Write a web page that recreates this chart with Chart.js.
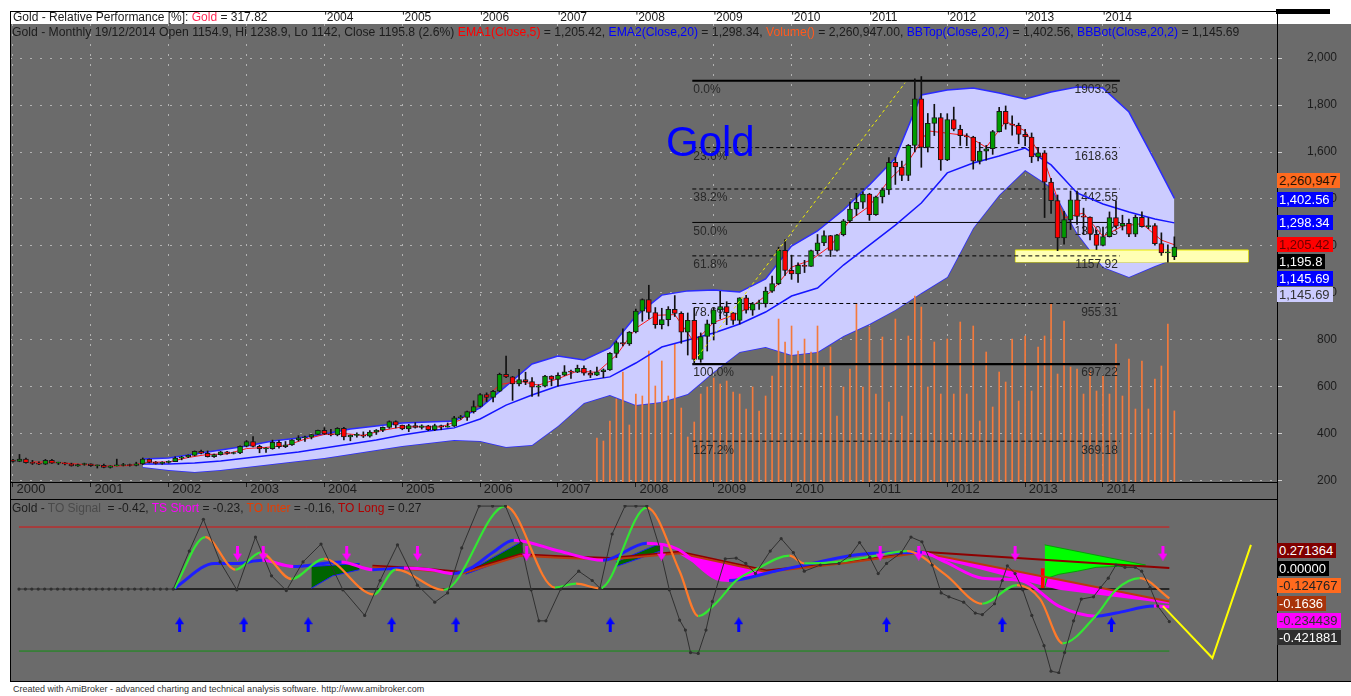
<!DOCTYPE html>
<html>
<head>
<meta charset="utf-8">
<title>Gold - Monthly</title>
<script src="https://cdn.jsdelivr.net/npm/chart.js@4.4.1/dist/chart.umd.min.js"></script>
<style>
  body { margin: 0; width: 1351px; height: 696px; position: relative; overflow: hidden; background: #fff;
         font-family: Arial, "Liberation Sans", sans-serif; }
  .gray { position: absolute; background: #6b6b6b; }
  .blk { position: absolute; background: #000; }
  .t { position: absolute; white-space: nowrap; font-size: 12px; line-height: 14px; color: #1c1c1c; }
  .v { position: absolute; left: 1277px; height: 15px; line-height: 15px; font-size: 13px; padding: 0 3px 0 2px; white-space: nowrap; }
  canvas { position: absolute; }
</style>
</head>
<body>
<div class="gray" style="left:10px;top:24px;width:1341px;height:657px"></div>

<canvas id="main" width="1341" height="487" style="left:10px;top:12px"></canvas>
<canvas id="osc" width="1267" height="181" style="left:10px;top:499px"></canvas>

<!-- frame lines -->
<div class="blk" style="left:10px;top:11px;width:1267px;height:1px"></div>
<div class="blk" style="left:10px;top:11px;width:1px;height:670px"></div>
<div class="blk" style="left:1277px;top:11px;width:1px;height:670px"></div>
<div class="blk" style="left:10px;top:482px;width:1267px;height:1px"></div>
<div class="blk" style="left:10px;top:499px;width:1267px;height:1px"></div>
<div class="blk" style="left:10px;top:681px;width:1341px;height:1px"></div>
<div class="blk" style="left:1276px;top:9px;width:54px;height:5px"></div>

<!-- titles -->
<div class="t" style="left:13px;top:10px;">Gold - Relative Performance [%]: <span style="color:#ff2a55">Gold</span> = 317.82</div>
<div class="t" style="left:12px;top:25px;font-size:12.2px;">Gold - Monthly 19/12/2014 Open 1154.9, Hi 1238.9, Lo 1142, Close 1195.8 (2.6%) <span style="color:#ff0000">EMA1(Close,5)</span> = 1,205.42, <span style="color:#0000ff">EMA2(Close,20)</span> = 1,298.34, <span style="color:#ff5a1e">Volume()</span> = 2,260,947.00, <span style="color:#0000ff">BBTop(Close,20,2)</span> = 1,402.56, <span style="color:#0000ff">BBBot(Close,20,2)</span> = 1,145.69</div>
<div class="t" style="left:666px;top:121px;font-size:42px;line-height:42px;color:#0000ff;">Gold</div>
<div class="t" style="left:12px;top:501px;">Gold - <span style="color:#4a4a4a">TO Signal</span>&nbsp; = -0.42, <span style="color:#ff00ff">TS Short</span> = -0.23, <span style="color:#e83c00">TO Inter</span> = -0.16, <span style="color:#b00000">TO Long</span> = 0.27</div>
<div class="t" style="left:13px;top:684px;font-size:9px;line-height:11px;color:#333;">Created with AmiBroker - advanced charting and technical analysis software. http://www.amibroker.com</div>

<!-- value labels, right axis -->
<div class="v" style="top:173px;background:#ff6a1e;color:#2a1000;">2,260,947</div>
<div class="v" style="top:192px;background:#0000ff;color:#fff;">1,402.56</div>
<div class="v" style="top:215px;background:#0000ff;color:#fff;">1,298.34</div>
<div class="v" style="top:237px;background:#ff0000;color:#6a0000;">1,205.42</div>
<div class="v" style="top:254px;background:#000;color:#fff;">1,195.8</div>
<div class="v" style="top:271px;background:#0000ff;color:#fff;">1,145.69</div>
<div class="v" style="top:287px;background:#ccccff;color:#333;">1,145.69</div>

<div class="v" style="top:543px;background:#800000;color:#fff;">0.271364</div>
<div class="v" style="top:561px;background:#000;color:#fff;">0.00000</div>
<div class="v" style="top:578px;background:#ff6a1e;color:#222;">-0.124767</div>
<div class="v" style="top:596px;background:#a8330a;color:#fff;">-0.1636</div>
<div class="v" style="top:613px;background:#ff00ff;color:#333;">-0.234439</div>
<div class="v" style="top:630px;background:#2e2e2e;color:#fff;">-0.421881</div>

<script>
// monthly bars Jan 2000 .. Dec 2014, x = month index
const open = [
  289,283,293,278,275,272,288,276,277,273,264,270,
  273,265,267,258,264,266,270,266,273,293,279,275,
  279,282,297,302,309,326,318,304,312,324,317,319,
  348,368,347,336,338,364,346,354,375,384,386,398,
  416,400,396,424,388,394,395,391,408,416,428,453,
  438,422,436,428,435,418,436,429,433,469,470,495,
  517,568,556,582,654,643,613,632,623,599,604,646,
  632,650,665,663,679,659,650,665,673,743,789,783,
  834,923,972,917,865,887,930,913,833,884,717,815,
  869,928,942,916,883,979,927,954,955,1008,1040,1182,
  1096,1081,1118,1113,1180,1213,1244,1181,1248,1307,1357,1386,
  1421,1333,1409,1439,1556,1536,1500,1628,1826,1620,1722,1746,
  1566,1738,1697,1669,1664,1561,1604,1614,1687,1773,1719,1714,
  1675,1664,1579,1597,1472,1393,1234,1312,1396,1326,1323,1250,
  1202,1240,1321,1284,1296,1250,1322,1282,1287,1210,1171,1154.9
];
const high = [
  292,313,298,288,282,292,292,280,278,276,272,276,
  273,268,272,265,293,275,272,280,298,294,283,282,
  286,303,305,311,328,332,328,315,326,326,323,350,
  372,389,352,342,374,372,368,376,393,391,399,417,
  427,420,427,428,396,405,409,415,419,430,456,456,
  438,441,448,439,437,442,438,447,475,479,498,541,
  572,575,586,659,732,645,675,663,640,610,650,648,
  660,691,672,693,690,671,685,677,746,796,848,836,
  932,975,1033,938,935,942,989,920,915,935,830,885,
  937,1007,963,917,980,990,960,970,1025,1072,1195,1227,
  1161,1128,1139,1183,1249,1265,1245,1250,1313,1387,1424,1431,
  1424,1412,1447,1576,1577,1561,1632,1911,1921,1764,1803,1764,
  1763,1791,1714,1678,1667,1641,1628,1692,1790,1796,1754,1723,
  1697,1681,1617,1606,1488,1417,1347,1434,1434,1361,1324,1267,
  1280,1345,1392,1331,1315,1332,1345,1320,1295,1256,1205,1238.9
];
const low = [
  280,282,276,270,269,270,275,270,268,263,262,267,
  262,255,256,255,264,264,263,264,270,277,272,271,
  276,282,290,299,307,315,302,300,310,314,315,316,
  345,345,320,322,335,340,342,351,370,368,379,398,
  398,392,392,375,371,387,385,386,398,410,424,426,
  418,410,425,421,414,414,418,429,432,462,458,489,
  515,538,536,580,640,543,605,610,560,561,600,605,
  603,648,636,661,650,640,648,640,670,725,775,777,
  830,880,890,850,847,860,900,786,736,697,705,753,
  800,890,865,866,868,914,905,930,940,1002,1035,1075,
  1058,1045,1087,1113,1165,1201,1155,1178,1243,1300,1330,1360,
  1309,1330,1383,1420,1462,1478,1478,1600,1535,1600,1670,1522,
  1563,1690,1628,1627,1527,1549,1565,1590,1685,1697,1672,1635,
  1627,1555,1562,1321,1339,1180,1208,1270,1292,1251,1226,1185,
  1200,1238,1277,1268,1240,1240,1280,1274,1204,1160,1131,1142
];
const close = [
  283,293,278,275,272,288,276,277,273,264,270,273,
  265,267,258,264,266,270,266,273,293,279,275,279,
  282,297,302,309,326,318,304,312,324,317,319,348,
  368,347,336,338,364,346,354,375,384,386,398,416,
  400,396,424,388,394,395,391,408,416,428,453,438,
  422,436,428,435,418,436,429,433,469,470,495,517,
  568,556,582,654,643,613,632,623,599,604,646,632,
  650,665,663,679,659,650,665,673,743,789,783,834,
  923,972,917,865,887,930,913,833,884,717,815,869,
  928,942,916,883,979,927,954,955,1008,1040,1182,1096,
  1081,1118,1113,1180,1213,1244,1181,1248,1307,1357,1386,1421,
  1333,1409,1439,1556,1536,1500,1628,1826,1620,1722,1746,1566,
  1738,1697,1669,1664,1561,1604,1614,1687,1773,1719,1714,1675,
  1664,1579,1597,1472,1393,1234,1312,1396,1326,1323,1250,1202,
  1240,1321,1284,1296,1250,1322,1282,1287,1210,1171,1175,1195.8
];

// volume (thousands), Jul 2007 .. Dec 2014
const VOL_START = 90;
const volume = [
  1400,1304,1940,2640,3498,1813,2798,2735,4166,3053,
  3848,2735,4388,2353,1431,1908,2798,3021,3307,3116,
  3212,2862,2798,2321,3021,2258,2735,3371,5183,4452,
  4961,4166,4547,4134,4961,3657,4293,2099,3021,3593,
  5660,3021,4929,2798,4611,2544,5183,2099,4643,5915,
  5565,3021,4452,2798,4547,2798,5088,2798,4961,1940,
  4134,2385,3498,3180,4547,2576,4643,2894,4293,4643,
  5660,3434,5120,3657,3593,2798,3530,2894,3371,2798,
  4388,2735,3911,2321,3848,2321,3275,3689,5024,2261
];

// Bollinger bands and EMA20, read every 4 months
const bandMonths = [20,24,28,32,36,40,44,48,52,56,60,64,68,72,76,80,84,88,92,96,100,104,108,112,116,120,124,128,132,136,140,144,148,152,156,160,164,168,172,176,179];
const bbTop = [294,298,315,332,349,370,383,400,421,434,447,451,455,511,604,698,732,715,766,902,991,1009,1013,1004,1060,1200,1264,1353,1460,1574,1843,1864,1872,1851,1826,1855,1877,1872,1770,1562,1402.56];
const bbBot = [260,247,238,247,260,272,285,298,315,332,349,362,374,370,345,353,434,532,566,523,536,570,664,749,770,736,749,817,868,928,1000,1068,1277,1417,1523,1451,1255,1111,1068,1115,1145.69];
const ema20 = [272,272,277,285,298,311,323,340,357,374,396,413,426,464,523,566,604,626,643,702,770,800,830,868,919,987,1021,1119,1204,1289,1383,1511,1553,1583,1617,1545,1426,1379,1345,1315,1298.34];

// EMA5, read every 3 months
const emaFastMonths = [3,6,9,12,15,18,21,24,27,30,33,36,39,42,45,48,51,54,57,60,63,66,69,72,75,78,81,84,87,90,93,96,99,102,105,108,111,114,117,120,123,126,129,132,135,138,141,144,147,150,153,156,159,162,165,168,171,174,177,179];
const ema5 = [281,280,274,268,263,266,280,281,300,313,315,338,343,350,378,398,402,394,416,430,431,430,460,530,610,625,608,635,668,662,735,850,905,908,790,875,905,945,1010,1110,1140,1200,1310,1370,1480,1560,1690,1680,1670,1620,1730,1690,1560,1320,1340,1240,1285,1295,1225,1205.42];

// Fibonacci retracement
const fibPct = ['0.0%','23.6%','38.2%','50.0%','61.8%','78.6%','100.0%','127.2%'];
const fibLevels = [1903.25,1618.63,1442.55,1300.23,1157.92,955.31,697.22,369.18];
const fibFrom = 104.7, fibTo = 170.6;
const trendMonths = [105, 137.5];
const trendValues = [710, 1895];
const zoneMonths = [154.5, 190.4];
const zoneTop = 1183, zoneBottom = 1132;

// oscillator panel
const signalMonths = [0,1,2,3,4,5,6,7,8,9,10,11,12,13,14,15,16,17,18,19,20,21,22,23,24,
  26.5,28.7,31.3,33.9,36.8,39.3,41.6,44.2,47,50.4,53.8,56.2,58.9,62,64.7,66.7,68.9,71.6,73.7,75.7,
  78.1,79.7,80.9,82,84.3,87.1,89.2,90.4,92.3,94.3,96,97.7,99.7,101.2,102.8,103.7,104.5,105.7,106.9,107.9,
  109.9,111.6,113.1,114.6,116.9,118.6,120.5,122.2,124.7,127.6,129.3,130.8,132.4,133.7,135,137.3,138.8,140.5,
  142.1,143.5,144.7,147,148.8,149.9,151.8,153,153.8,155,156.2,157.6,159.5,160.6,161.8,162.7,164.1,165.3,
  167.2,168.3,169.5,170.7,172.1,173.7,174.7,176,177.2,179];
const signal = [0,0,0,0,0,0,0,0,0,0,0,0,0,0,0,0,0,0,0,0,0,0,0,0,0,
  0.49,0.90,0.35,-0.01,0.67,0.17,-0.02,0.35,0.58,-0.01,-0.34,0.11,0.57,0.05,-0.17,-0.05,0.53,1.07,1.07,1.07,
  0.59,-0.01,-0.41,-0.41,0.00,0.23,0.11,0.01,0.71,1.07,1.07,1.07,0.53,-0.01,-0.40,-0.53,-0.82,-0.83,-0.53,-0.16,
  0.39,0.40,0.33,0.20,0.49,0.65,0.47,0.23,0.31,0.33,0.43,0.60,0.41,0.20,0.33,0.47,0.67,0.61,
  0.31,-0.05,-0.10,-0.17,-0.31,-0.33,-0.19,0.11,0.30,0.20,-0.01,-0.34,-0.73,-1.06,-1.08,-0.82,-0.41,-0.13,
  -0.10,0.02,0.14,0.31,0.28,0.28,0.23,0.02,-0.22,-0.42];
const fastMonths = [24.2,29,33.7,37.6,42.4,47.5,55.2,58.6,66.1,75.7,83.4,86.7,90.4,97.7,102.8,105.7,108.6,111.6,114.6,119.9,122.2,127.4,132,138.2,144.1,149.9,155.3,158.9,162.4,167.6,170.7,174.4,179];
const fastLine = [0.01,0.67,0.25,0.47,0.13,0.39,-0.07,0.25,-0.01,1.07,0.02,0.07,0.01,1.05,0.23,-0.35,-0.17,0.11,0.25,0.43,0.33,0.35,0.41,0.49,0.19,-0.19,0.05,-0.13,-0.70,-0.34,-0.01,0.14,-0.12];
const shortMonths = [24.2,30.4,33.7,37.9,42.7,50.2,55,59.9,64.1,67.5,70.3,73.7,77,84,90.9,97.7,102.6,108.6,110.5,117.6,123.4,131.1,140.5,144.1,149.9,155.9,161.8,167.6,170.7,176.6,179];
const tsShort = [0.01,0.33,0.33,0.37,0.29,0.35,0.25,0.27,0.25,0.20,0.27,0.47,0.63,0.49,0.37,0.59,0.51,0.13,0.11,0.23,0.33,0.45,0.47,0.35,0.14,0.11,-0.22,-0.35,-0.31,-0.22,-0.23];
const slowMonths = [55,62,69,78,85,92,102.8,116.3,129,140.5,179];
const toLong = [0.30,0.27,0.22,0.45,0.42,0.40,0.48,0.24,0.35,0.48,0.27];
const toInter = [0.28,0.25,0.20,0.43,0.40,0.38,0.46,0.22,0.34,0.47,-0.16];
const pinkEdgeA = { m: [102.8,105.7,108.6,110.5,113.5,116.3], v: [0.45,0.30,0.13,0.11,0.15,0.22] };
const pinkEdgeB = { m: [140.5,161.8,179], v: [0.45,-0.01,-0.19] };
const darkFills = [
  { up: { m: [45.5,53], v: [0.29,0.33] }, lo: { m: [45.5,48.8,53], v: [0.01,0.17,0.25] } },
  { up: { m: [69.5,78.4], v: [0.21,0.62] }, lo: { m: [69.5,78.4], v: [0.19,0.46] } },
  { up: { m: [92.9,99.8], v: [0.35,0.59] }, lo: { m: [92.9,99.8], v: [0.29,0.49] } }
];
const wedgeUp = { m: [159.6,175.3], v: [0.57,0.31] };
const wedgeLo = { m: [159.6,160,161.8,164.7,167.6,175.3], v: [0.02,0.14,0.19,0.23,0.28,0.31] };
const redUp = { m: [159,159.6], v: [0.26,0.26] };
const redLo = { m: [159,159.6], v: [0.02,0.02] };
const upArrowMonths = [25,35,45,58,68,92,112,135,153,170];
const downArrowMonths = [34,38,51,62,79,100,134,140,155,178];
const UP_ARROW_AT = -0.46, DOWN_ARROW_AT = 0.464;
const projMonths = [178, 185.7, 191.7];
const projection = [-0.22, -0.89, 0.57];
const upperLevel = 0.8, lowerLevel = -0.8;

const yearLabels = ['2000','2001','2002','2003','2004','2005','2006','2007','2008','2009','2010','2011','2012','2013','2014'];
const topYearFrom = 4; // top strip shows 2004 onwards

const XMIN = -0.46, XMAX = 194.82;
const pts = (xs, ys) => xs.map((x, i) => ({ x: x, y: ys[i] }));
const flat = (xs, v) => xs.map(x => ({ x: x, y: v }));

// ---------------- main price panel ----------------
const mainSets = [];
mainSets.push({ type: 'line', data: pts(bandMonths, bbTop), borderColor: '#2b2bff', borderWidth: 1.5, fill: '+1', backgroundColor: '#ccccff', order: 20 });
mainSets.push({ type: 'line', data: pts(bandMonths, bbBot), borderColor: '#2b2bff', borderWidth: 1.5, fill: false, order: 20 });
mainSets.push({ type: 'line', data: flat(zoneMonths, zoneTop), borderColor: '#e8e800', borderWidth: 1, fill: '+1', backgroundColor: '#ffffb4', order: 15 });
mainSets.push({ type: 'line', data: flat(zoneMonths, zoneBottom), borderColor: '#e8e800', borderWidth: 1, order: 15 });
mainSets.push({ type: 'line', data: [{ x: zoneMonths[0], y: zoneBottom }, { x: zoneMonths[0], y: zoneTop }], borderColor: '#e8e800', borderWidth: 1, order: 15 });
mainSets.push({ type: 'line', data: [{ x: zoneMonths[1], y: zoneBottom }, { x: zoneMonths[1], y: zoneTop }], borderColor: '#e8e800', borderWidth: 1, order: 15 });
mainSets.push({ type: 'bar', yAxisID: 'yv', data: volume.map((v, i) => ({ x: VOL_START + i, y: v })),
  backgroundColor: '#f47a3c', barThickness: 1, grouped: false, order: 14 });
fibLevels.forEach((lv, i) => {
  const solid = i === 0 || i === 3 || i === 6;
  mainSets.push({ type: 'line', data: flat([fibFrom, fibTo], lv), borderColor: '#000',
    borderWidth: (i === 0 || i === 6) ? 2.2 : 1, borderDash: solid ? [] : [4, 3], order: 12 });
});
mainSets.push({ type: 'line', label: 'fibText', data: [], order: 11 });
mainSets.push({ type: 'line', data: pts(bandMonths, ema20), borderColor: '#1515ff', borderWidth: 1.5, order: 6 });
mainSets.push({ type: 'line', data: pts(emaFastMonths, ema5), borderColor: '#ff1a1a', borderWidth: 1, order: 5 });
mainSets.push({ type: 'bar', data: close.map((c, i) => ({ x: i, y: [low[i], high[i]] })),
  backgroundColor: '#111', barThickness: 1, grouped: false, order: 3 });
mainSets.push({ type: 'bar', data: close.map((c, i) => ({ x: i, y: [open[i], c] })),
  backgroundColor: close.map((c, i) => c >= open[i] ? '#009a00' : '#ff0000'),
  borderColor: '#1a1a1a', borderWidth: 1, borderSkipped: false, minBarLength: 1,
  barThickness: 5, grouped: false, order: 2 });
mainSets.push({ type: 'line', data: pts(trendMonths, trendValues), borderColor: '#f0f000', borderWidth: 1, borderDash: [3, 3], order: 1 });

const fibText = {
  id: 'fibText',
  afterDatasetDraw(chart, args) {
    if (chart.data.datasets[args.index].label !== 'fibText') return;
    const { ctx, scales } = chart;
    ctx.save();
    ctx.font = '12px Arial, "Liberation Sans"';
    ctx.fillStyle = '#282828';
    ctx.textBaseline = 'top';
    fibLevels.forEach((lv, i) => {
      const y = scales.y.getPixelForValue(lv) + 3;
      ctx.textAlign = 'left';
      ctx.fillText(fibPct[i], scales.x.getPixelForValue(fibFrom) + 1, y);
      ctx.textAlign = 'right';
      ctx.fillText(lv.toFixed(2), scales.x.getPixelForValue(fibTo) - 2, y);
    });
    ctx.restore();
  }
};

const gridCol = ctx => (ctx.tick && ctx.tick.value <= 168) ? '#b2b2b2' : 'rgba(0,0,0,0)';
const tickCol = ctx => (ctx.tick && ctx.tick.value <= 168) ? '#1c1c1c' : 'rgba(0,0,0,0)';

new Chart(document.getElementById('main'), {
  type: 'line',
  data: { datasets: mainSets },
  options: {
    responsive: false, animation: false, events: [],
    layout: { padding: { left: 0, right: 14, top: 0, bottom: 0 } },
    plugins: { legend: { display: false }, tooltip: { enabled: false } },
    elements: { point: { radius: 0 }, line: { tension: 0 } },
    scales: {
      x: {
        type: 'linear', position: 'bottom', min: XMIN, max: XMAX, offset: false,
        ticks: { stepSize: 12, includeBounds: false, autoSkip: false, maxRotation: 0, align: 'start', padding: -5,
          color: '#1c1c1c', font: { size: 13, family: 'Arial, "Liberation Sans"' },
          callback: v => yearLabels[v / 12] ? ' ' + yearLabels[v / 12] : '' },
        grid: { offset: false, color: gridCol, tickColor: tickCol, tickLength: 5, lineWidth: 1 },
        border: { display: false, dash: [2, 8] },
        afterFit: s => { s.height = 17; s.paddingLeft = 0; s.paddingRight = 0; }
      },
      xTop: {
        type: 'linear', position: 'top', min: XMIN, max: XMAX, offset: false,
        ticks: { stepSize: 12, includeBounds: false, autoSkip: false, maxRotation: 0, align: 'start', padding: -1,
          color: '#1c1c1c', font: { size: 12, family: 'Arial, "Liberation Sans"' },
          callback: v => (v / 12 >= topYearFrom && yearLabels[v / 12]) ? "'" + yearLabels[v / 12] : '' },
        grid: { drawOnChartArea: false, drawTicks: false },
        border: { display: false },
        afterFit: s => { s.height = 12; s.paddingLeft = 0; s.paddingRight = 0; }
      },
      y: {
        type: 'linear', position: 'right', min: 195.7, max: 2144.7, beginAtZero: false,
        ticks: { stepSize: 200, includeBounds: false, crossAlign: 'far', color: '#1c1c1c',
          font: { size: 12, family: 'Arial, "Liberation Sans"' },
          callback: v => v.toLocaleString('en-US') },
        grid: { color: '#b2b2b2', tickColor: '#cfcfcf', tickLength: 5 },
        border: { display: false, dash: [2, 8] },
        afterFit: s => { s.width = 60; s.paddingTop = 0; s.paddingBottom = 0; }
      },
      yv: { type: 'linear', display: false, min: 0, max: 14565 }
    }
  },
  plugins: [fibText]
});

// ---------------- oscillator panel ----------------
function arrow(color, up) {
  const c = document.createElement('canvas');
  c.width = 9; c.height = 15;
  const g = c.getContext('2d');
  g.fillStyle = color;
  g.beginPath();
  if (up) { g.moveTo(4.5, 0); g.lineTo(9, 7); g.lineTo(6, 7); g.lineTo(6, 15); g.lineTo(3, 15); g.lineTo(3, 7); g.lineTo(0, 7); }
  else { g.moveTo(4.5, 15); g.lineTo(9, 8); g.lineTo(6, 8); g.lineTo(6, 0); g.lineTo(3, 0); g.lineTo(3, 8); g.lineTo(0, 8); }
  g.closePath(); g.fill();
  return c;
}

const oscSets = [];
const add = ds => oscSets.push(ds) - 1;
add({ data: flat([0, 179], upperLevel), borderColor: '#dd1111', borderWidth: 1, order: 20 });
add({ data: flat([0, 179], lowerLevel), borderColor: '#129012', borderWidth: 1, order: 20 });
add({ data: flat([24, 179], 0), borderColor: '#262626', borderWidth: 2, order: 20 });
darkFills.forEach(f => {
  add({ data: pts(f.up.m, f.up.v), borderColor: '#1a1aff', borderWidth: 1, order: 15 });
  add({ data: pts(f.lo.m, f.lo.v), borderColor: '#1a1aff', borderWidth: 1, fill: '-1', backgroundColor: '#006400', order: 15 });
});
add({ data: pts(wedgeUp.m, wedgeUp.v), borderColor: '#0a9a0a', borderWidth: 1, order: 13 });
add({ data: pts(wedgeLo.m, wedgeLo.v), borderColor: '#0a9a0a', borderWidth: 1, fill: '-1', backgroundColor: '#00ff00', order: 13 });
add({ data: pts(redUp.m, redUp.v), borderColor: '#ff0000', borderWidth: 1, order: 13 });
add({ data: pts(redLo.m, redLo.v), borderColor: '#ff0000', borderWidth: 1, fill: '-1', backgroundColor: '#ff0000', order: 13 });
const iInter = add({ data: pts(slowMonths, toInter), borderColor: '#b83a10', borderWidth: 2, order: 10 });
add({ data: pts(slowMonths, toLong), borderColor: '#8e0000', borderWidth: 2, order: 10 });
add({ data: pts(pinkEdgeA.m, pinkEdgeA.v), borderWidth: 0, fill: { target: iInter }, backgroundColor: '#ff00ff', order: 14 });
add({ data: pts(pinkEdgeB.m, pinkEdgeB.v), borderWidth: 0, fill: { target: iInter }, backgroundColor: '#ff00ff', order: 14 });
add({ data: pts(shortMonths, tsShort), borderWidth: 3, cubicInterpolationMode: 'monotone', order: 8,
  segment: { borderColor: c => c.p1.parsed.y >= c.p0.parsed.y ? '#1e1eff' : '#ff00ff' } });
add({ data: pts(fastMonths, fastLine), borderWidth: 2.2, cubicInterpolationMode: 'monotone', order: 7,
  segment: { borderColor: c => c.p1.parsed.y >= c.p0.parsed.y ? '#33e633' : '#ff7a2a' } });
add({ data: pts(signalMonths, signal), borderColor: '#303030', borderWidth: 1, pointRadius: 1.6,
  pointBackgroundColor: '#303030', pointBorderWidth: 0, order: 5 });
add({ data: pts(projMonths, projection), borderColor: '#ffff00', borderWidth: 2, order: 4 });
add({ data: flat(upArrowMonths, UP_ARROW_AT), showLine: false, pointStyle: arrow('#0000ff', true), pointRadius: 5, order: 1 });
add({ data: flat(downArrowMonths, DOWN_ARROW_AT), showLine: false, pointStyle: arrow('#ff00ff', false), pointRadius: 5, order: 1 });

new Chart(document.getElementById('osc'), {
  type: 'line',
  data: { datasets: oscSets },
  options: {
    responsive: false, animation: false, events: [],
    layout: { padding: 0 },
    plugins: { legend: { display: false }, tooltip: { enabled: false } },
    elements: { point: { radius: 0 } },
    scales: {
      x: { type: 'linear', display: false, min: XMIN, max: XMAX },
      y: { type: 'linear', display: false, min: -1.096, max: 1.084 }
    }
  }
});
</script>
</body>
</html>
